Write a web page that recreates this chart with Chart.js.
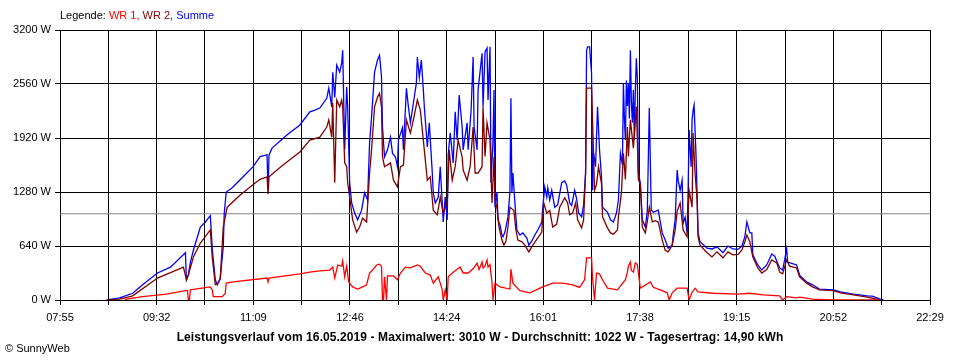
<!DOCTYPE html>
<html>
<head>
<meta charset="utf-8">
<script src="https://cdn.jsdelivr.net/npm/chart.js@4/dist/chart.umd.min.js"></script>
<style>
  html, body { margin: 0; padding: 0; background: #fff; }
  #wrap { position: relative; width: 960px; height: 360px; font-family: "Liberation Sans", Arial, sans-serif; }
  canvas { position: absolute; left: 0; top: 0; }
  .txt { position: absolute; white-space: nowrap; font-size: 11px; color: #000; }
  #legend { left: 60px; top: 9px; }
  #title { left: 0; width: 960px; text-align: center; top: 330px; font-weight: bold; font-size: 12px; letter-spacing: 0.1px; }
  #copy { left: 5px; top: 342px; }
</style>
</head>
<body>
<div id="wrap">
  <canvas id="c" width="960" height="360"></canvas>
  <div class="txt" id="legend">Legende: <span style="color:#ff0000">WR 1,</span> <span style="color:#800000">WR 2,</span> <span style="color:#0000ff">Summe</span></div>
  <div class="txt" id="title">Leistungsverlauf vom 16.05.2019 - Maximalwert: 3010 W - Durchschnitt: 1022 W - Tagesertrag: 14,90 kWh</div>
  <div class="txt" id="copy">© SunnyWeb</div>
</div>
<script>
// x axis: minutes of the day
const xMin = 475;   // 07:55
const xMax = 1349;  // 22:29
const xTickLabels = ['07:55','09:32','11:09','12:46','14:24','16:01','17:38','19:15','20:52','22:29'];
const yTicks = [0, 640, 1280, 1920, 2560, 3200];
const average = 1022;

// WR 1 (red)
const wr1Times = [540,542,558,582,601,603,604,605,606,626,628,629,638,641,642,649,683,684,685,716,726,736,746,749,751,754,758,759,761,763,765,769,774,779,783,786,789,793,796,798,799,800,801,803,804,810,814,817,822,827,834,837,842,847,850,855,857,859,860,862,864,865,870,877,880,885,890,894,896,899,900,902,904,905,907,909,910,912,917,927,928,930,937,947,960,970,980,990,997,1002,1004,1009,1010,1012,1014,1017,1020,1025,1035,1043,1045,1046,1048,1049,1051,1053,1055,1058,1068,1071,1078,1085,1087,1090,1095,1105,1107,1110,1113,1116,1131,1156,1168,1181,1198,1201,1205,1215,1218,1231,1249,1299];
const wr1Values = [0,10,40,70,110,110,0,0,120,155,120,40,40,80,200,215,260,215,260,310,330,345,355,390,260,415,400,460,275,400,215,155,130,155,180,320,355,415,425,400,0,0,275,0,285,285,240,320,390,380,415,400,320,295,200,275,200,120,0,120,0,275,330,390,320,320,370,435,360,450,380,400,475,390,420,200,0,200,155,130,365,200,110,85,155,200,200,180,150,240,500,500,260,0,320,310,240,140,120,240,330,400,450,350,330,440,420,140,215,150,120,85,0,85,140,140,0,95,140,95,80,70,80,60,50,0,40,25,35,10,0,0];

// WR 2 (dark red)
const wr2Times = [522,535,548,573,599,602,604,609,616,626,628,631,634,636,639,643,656,666,676,683,684,685,699,716,726,736,743,745,748,749,751,753,756,758,759,761,763,764,766,769,773,776,779,783,786,788,791,794,796,798,799,801,807,810,814,817,820,823,827,830,834,837,840,844,847,850,854,857,860,864,866,869,872,875,879,880,884,887,890,892,895,899,900,902,904,907,909,911,912,914,916,919,921,923,925,927,929,931,933,935,939,942,946,950,955,959,961,964,967,970,974,977,982,985,987,990,993,995,999,1001,1003,1004,1009,1010,1012,1014,1016,1019,1020,1025,1028,1031,1035,1036,1039,1041,1043,1045,1046,1048,1051,1054,1055,1056,1058,1060,1063,1065,1067,1070,1073,1076,1080,1083,1086,1090,1093,1095,1098,1101,1105,1107,1110,1111,1113,1115,1116,1118,1125,1130,1135,1141,1146,1151,1156,1160,1163,1165,1168,1171,1176,1180,1185,1190,1195,1198,1201,1205,1208,1215,1218,1225,1231,1238,1252,1259,1272,1286,1299];
const wr2Values = [0,10,50,260,390,240,300,510,675,830,500,180,200,250,865,1100,1245,1340,1430,1460,1255,1460,1600,1755,1895,1930,2050,2135,1930,2335,1390,2370,2290,2370,2290,1625,1580,1390,1220,950,805,865,970,925,1505,1780,2290,2405,2450,2290,1695,1580,1625,1420,1340,1580,1600,2135,1980,2135,2370,2250,1895,1420,1460,1065,1010,1220,1030,1150,1780,1420,1580,1895,1695,1540,1420,1580,2050,1505,1505,1580,2290,1700,2100,1895,1150,1695,1185,1090,865,710,650,700,865,1100,1080,1060,830,710,690,650,570,650,735,805,1150,1030,1060,865,900,1100,1210,1150,1010,1030,1150,950,855,950,1505,2510,2510,2135,1300,1370,1580,1380,985,855,795,780,830,985,1270,1740,1430,2050,1700,2135,1800,2290,1895,1430,1370,865,795,930,1100,925,940,925,710,590,570,650,830,1050,1150,830,750,1300,1100,1980,1505,1185,750,650,560,510,570,500,570,535,540,590,690,770,690,510,380,320,360,475,440,330,310,475,400,380,275,200,155,120,110,85,60,35,0];

// Summe (blue)
const sumTimes = [522,527,535,548,558,573,586,601,602,604,606,609,616,621,626,628,631,633,636,639,640,642,648,659,669,676,683,684,685,688,703,716,726,731,736,743,745,748,749,751,753,756,758,759,761,763,764,766,768,771,774,778,781,784,786,788,791,794,796,798,799,801,804,807,809,812,814,815,819,820,823,825,827,830,833,834,836,838,840,841,844,846,849,850,852,855,857,859,860,862,864,865,867,870,872,874,876,879,880,884,885,888,890,891,894,895,899,900,902,904,905,907,908,910,911,912,914,915,917,919,920,922,925,927,928,929,930,932,934,937,940,944,946,949,952,955,959,960,962,964,965,967,969,972,975,979,982,984,987,989,992,994,996,999,1001,1003,1004,1005,1007,1009,1010,1011,1013,1015,1017,1019,1020,1025,1028,1031,1034,1036,1038,1040,1041,1042,1043,1044,1045,1046,1047,1048,1049,1050,1051,1052,1053,1054,1055,1056,1058,1060,1063,1065,1067,1069,1071,1076,1080,1083,1086,1090,1091,1093,1095,1096,1098,1100,1101,1103,1105,1106,1107,1109,1110,1111,1112,1114,1115,1116,1118,1125,1130,1135,1141,1146,1151,1156,1160,1163,1165,1168,1170,1171,1176,1180,1185,1190,1193,1198,1201,1205,1206,1210,1215,1218,1225,1231,1238,1252,1259,1272,1286,1291,1299,1302];
const sumValues = [0,10,25,80,180,320,390,560,240,300,450,590,865,925,1000,600,240,180,260,630,1030,1280,1330,1460,1580,1700,1720,1300,1720,1800,1955,2075,2230,2250,2275,2390,2510,2290,2700,2400,2785,2700,2810,2960,1780,2525,2290,1390,1150,1030,950,1065,1270,1185,1860,2170,2700,2845,2900,2640,2050,1695,1780,1930,1740,1695,1580,1895,2040,1780,2510,2290,2100,2335,2570,2880,2640,2845,2490,2290,1815,2100,1505,1270,1150,1220,1580,1150,925,1220,950,1720,1980,1625,2230,1895,2430,2050,1780,2100,1780,2250,2880,2050,1780,2490,2925,2290,2940,2985,2370,3000,1390,1895,2490,1100,1280,950,890,770,750,805,985,1280,2390,1280,1505,1150,830,770,795,735,650,700,770,830,925,1100,1340,1220,1330,1185,1300,1100,1130,1390,1410,1360,1150,1120,1300,1200,1030,985,1125,1505,2960,3000,3000,2690,1300,1740,1580,2290,1780,1460,1100,1040,950,925,1030,1185,1740,1600,2570,2150,1895,2600,2300,2570,2150,2960,2350,2100,2490,1900,2500,2865,2630,1505,1390,950,865,1050,2275,1065,1040,1065,795,710,615,650,770,950,1540,1420,1300,1420,910,980,795,1300,2015,1580,2135,2250,2310,1695,1270,795,690,615,605,630,560,640,605,600,640,750,925,795,795,535,415,355,415,545,520,380,355,605,450,435,415,295,215,180,130,120,95,70,50,45,10,0];

function pts(times, values) { return times.map((t, i) => ({ x: t, y: values[i] })); }
function ds(label, times, values, color, w) {
  return { label, data: pts(times, values), borderColor: color, backgroundColor: color,
           borderWidth: w, pointRadius: 0, tension: 0, fill: false };
}

new Chart(document.getElementById('c'), {
  type: 'line',
  data: {
    datasets: [
      ds('WR 1', wr1Times, wr1Values, '#ff0000', 1.3),
      ds('WR 2', wr2Times, wr2Values, '#800000', 1.3),
      ds('Summe', sumTimes, sumValues, '#0000ff', 1.3),
      ds('Durchschnitt', [xMin, xMax], [average, average], '#808080', 1)
    ]
  },
  options: {
    responsive: false,
    animation: false,
    devicePixelRatio: 1,
    layout: { padding: { top: 30, right: 30, left: 0, bottom: 0 } },
    plugins: { legend: { display: false }, tooltip: { enabled: false } },
    scales: {
      x: {
        type: 'linear', min: xMin, max: xMax,
        afterBuildTicks: (s) => {
          const n = (xTickLabels.length - 1) * 2;
          const t = [];
          for (let i = 0; i <= n; i++) t.push({ value: xMin + (xMax - xMin) * i / n });
          s.ticks = t;
        },
        afterFit: (s) => { s.height = 60; },
        ticks: {
          autoSkip: false, maxRotation: 0, minRotation: 0, padding: 6,
          color: '#000', font: { family: '"Liberation Sans", Arial, sans-serif', size: 11 },
          callback: (v, i) => (i % 2 === 0 ? xTickLabels[i / 2] : '')
        },
        grid: { color: '#000', lineWidth: 1, drawTicks: true, tickLength: 5, tickColor: '#000' },
        border: { display: true, color: '#000', width: 1 }
      },
      y: {
        min: 0, max: 3200,
        afterBuildTicks: (s) => { s.ticks = yTicks.map(v => ({ value: v })); },
        afterFit: (s) => { s.width = 60; },
        ticks: {
          padding: 4, color: '#000', font: { family: '"Liberation Sans", Arial, sans-serif', size: 11 },
          callback: (v) => v + ' W'
        },
        grid: { color: '#000', lineWidth: 1, drawTicks: true, tickLength: 5, tickColor: '#000' },
        border: { display: true, color: '#000', width: 1 }
      }
    }
  }
});
</script>
</body>
</html>
